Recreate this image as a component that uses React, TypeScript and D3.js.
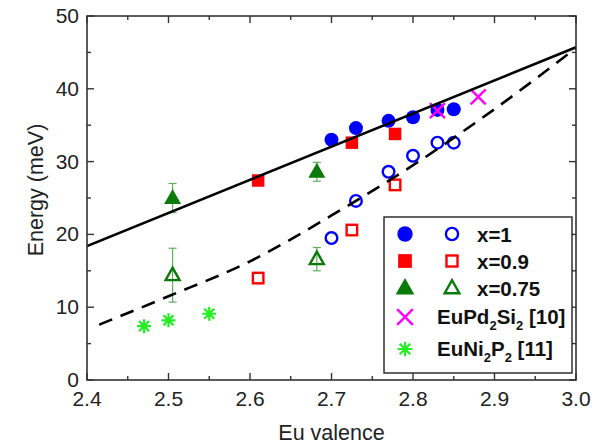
import React from "react";
import * as d3 from "d3";

// Eu valence vs energy
const valenceX1 = [2.7, 2.73, 2.77, 2.8, 2.83, 2.85];
const energyX1Filled = [33.0, 34.6, 35.6, 36.1, 37.1, 37.2];
const energyX1Open = [19.5, 24.6, 28.6, 30.8, 32.6, 32.6];

const valenceX09 = [2.61, 2.725, 2.778];
const energyX09Filled = [27.4, 32.6, 33.8];
const energyX09Open = [14.0, 20.6, 26.8];

const valenceX075 = [2.505, 2.682];
const energyX075Filled = [25.0, 28.6];
const errX075Filled = [2.0, 1.3];
const energyX075Open = [14.4, 16.6];
const errX075Open = [3.7, 1.6];

const valencePd = [2.83, 2.88];
const energyPd = [37.0, 38.9];

const valenceNi = [2.47, 2.5, 2.55];
const energyNi = [7.4, 8.2, 9.1];

const solidValence = [2.4, 3.0];
const solidEnergy = [18.4, 45.7];
const dashedValence = [2.415, 2.5, 2.6, 2.7, 2.8, 2.9, 3.0];
const dashedEnergy = [7.6, 11.5, 16.3, 22.6, 29.5, 37.2, 45.6];

const xTicks = [2.4, 2.5, 2.6, 2.7, 2.8, 2.9, 3.0];
const yTicks = [0, 10, 20, 30, 40, 50];

const BLUE = "#0000ff";
const RED = "#ff0000";
const GREEN = "#0a7a0a";
const GREEN_ERR = "#5fae5f";
const MAGENTA = "#ff00ff";
const LIME = "#22ee22";
const FONT = "'Liberation Sans', Arial, sans-serif";

const W = 603;
const H = 445;
const left = 87;
const right = 576;
const top = 16;
const bottom = 380;

type Kind = "circle" | "square" | "triangle" | "cross" | "star";

function Marker({ kind, x, y, color, filled, size = 1 }: { kind: Kind; x: number; y: number; color: string; filled?: boolean; size?: number }) {
  const fill = filled ? color : "none";
  const sw = 2.4;
  if (kind === "circle") {
    const r = (filled ? 7 : 5.8) * size;
    return <circle cx={x} cy={y} r={r} fill={fill} stroke={filled ? "none" : color} strokeWidth={sw} />;
  }
  if (kind === "square") {
    const s = (filled ? 12.5 : 10.5) * size;
    return <rect x={x - s / 2} y={y - s / 2} width={s} height={s} fill={fill} stroke={filled ? "none" : color} strokeWidth={sw} />;
  }
  if (kind === "triangle") {
    const h = (filled ? 15 : 12.5) * size;
    const w = (filled ? 17 : 14) * size;
    const p = `M${x},${y - h * 0.6} L${x + w / 2},${y + h * 0.4} L${x - w / 2},${y + h * 0.4} Z`;
    return <path d={p} fill={fill} stroke={filled ? "none" : color} strokeWidth={sw} strokeLinejoin="miter" />;
  }
  if (kind === "cross") {
    const a = 7.5 * size;
    return (
      <path d={`M${x - a},${y - a}L${x + a},${y + a}M${x - a},${y + a}L${x + a},${y - a}`} stroke={color} strokeWidth={2.4} />
    );
  }
  const a = 7 * size;
  const b = a * 0.72;
  return (
    <path
      d={`M${x - a},${y}L${x + a},${y}M${x},${y - a}L${x},${y + a}M${x - b},${y - b}L${x + b},${y + b}M${x - b},${y + b}L${x + b},${y - b}`}
      stroke={color}
      strokeWidth={2.2}
    />
  );
}

export default function App() {
  const x = d3.scaleLinear().domain([2.4, 3.0]).range([left, right]);
  const y = d3.scaleLinear().domain([0, 50]).range([bottom, top]);

  const line = d3
    .line<[number, number]>()
    .x((d) => x(d[0]))
    .y((d) => y(d[1]))
    .curve(d3.curveMonotoneX);

  const solidPts = solidValence.map((v, i) => [v, solidEnergy[i]] as [number, number]);
  const dashedPts = dashedValence.map((v, i) => [v, dashedEnergy[i]] as [number, number]);

  const xMinor = d3.range(2.45, 3.0, 0.1);
  const yMinor = d3.range(5, 50, 10);

  const errBar = (vx: number, e: number, err: number, key: string) => {
    const cx = x(vx);
    return (
      <g key={key} stroke={GREEN_ERR} strokeWidth={1.2}>
        <line x1={cx} x2={cx} y1={y(e - err)} y2={y(e + err)} />
        <line x1={cx - 4} x2={cx + 4} y1={y(e - err)} y2={y(e - err)} />
        <line x1={cx - 4} x2={cx + 4} y1={y(e + err)} y2={y(e + err)} />
      </g>
    );
  };

  const legendRows = [
    { y: 234, kind: "circle" as Kind, color: BLUE, label: "x=1" },
    { y: 261, kind: "square" as Kind, color: RED, label: "x=0.9" },
    { y: 288, kind: "triangle" as Kind, color: GREEN, label: "x=0.75" },
  ];

  return (
    <svg width={W} height={H} style={{ position: "absolute", left: 0, top: 0, background: "#fff" }} fontFamily={FONT}>
      <defs>
        <clipPath id="plot">
          <rect x={left} y={top} width={right - left} height={bottom - top} />
        </clipPath>
      </defs>

      {/* error bars */}
      {valenceX075.map((v, i) => errBar(v, energyX075Filled[i], errX075Filled[i], "ef" + i))}
      {valenceX075.map((v, i) => errBar(v, energyX075Open[i], errX075Open[i], "eo" + i))}

      {/* markers */}
      {valenceX1.map((v, i) => (
        <Marker key={"bf" + i} kind="circle" x={x(v)} y={y(energyX1Filled[i])} color={BLUE} filled />
      ))}
      {valenceX1.map((v, i) => (
        <Marker key={"bo" + i} kind="circle" x={x(v)} y={y(energyX1Open[i])} color={BLUE} />
      ))}
      {valenceX09.map((v, i) => (
        <Marker key={"rf" + i} kind="square" x={x(v)} y={y(energyX09Filled[i])} color={RED} filled />
      ))}
      {valenceX09.map((v, i) => (
        <Marker key={"ro" + i} kind="square" x={x(v)} y={y(energyX09Open[i])} color={RED} />
      ))}
      {valenceX075.map((v, i) => (
        <Marker key={"gf" + i} kind="triangle" x={x(v)} y={y(energyX075Filled[i])} color={GREEN} filled />
      ))}
      {valenceX075.map((v, i) => (
        <Marker key={"go" + i} kind="triangle" x={x(v)} y={y(energyX075Open[i])} color={GREEN} />
      ))}
      {valencePd.map((v, i) => (
        <Marker key={"pd" + i} kind="cross" x={x(v)} y={y(energyPd[i])} color={MAGENTA} />
      ))}
      {valenceNi.map((v, i) => (
        <Marker key={"ni" + i} kind="star" x={x(v)} y={y(energyNi[i])} color={LIME} />
      ))}

      {/* fit curves */}
      <g clipPath="url(#plot)" fill="none" stroke="#000" strokeWidth={2.6}>
        <path d={line(solidPts) || ""} />
        <path d={line(dashedPts) || ""} strokeDasharray="14 9" />
      </g>

      {/* frame and ticks */}
      <rect x={left} y={top} width={right - left} height={bottom - top} fill="none" stroke="#333" strokeWidth={1.6} />
      <g stroke="#333" strokeWidth={1.4}>
        {xTicks.map((t) => (
          <g key={"xt" + t}>
            <line x1={x(t)} x2={x(t)} y1={bottom} y2={bottom - 7} />
            <line x1={x(t)} x2={x(t)} y1={top} y2={top + 7} />
          </g>
        ))}
        {xMinor.map((t) => (
          <g key={"xm" + t}>
            <line x1={x(t)} x2={x(t)} y1={bottom} y2={bottom - 4} />
            <line x1={x(t)} x2={x(t)} y1={top} y2={top + 4} />
          </g>
        ))}
        {yTicks.map((t) => (
          <g key={"yt" + t}>
            <line x1={left} x2={left + 7} y1={y(t)} y2={y(t)} />
            <line x1={right} x2={right - 7} y1={y(t)} y2={y(t)} />
          </g>
        ))}
        {yMinor.map((t) => (
          <g key={"ym" + t}>
            <line x1={left} x2={left + 4} y1={y(t)} y2={y(t)} />
            <line x1={right} x2={right - 4} y1={y(t)} y2={y(t)} />
          </g>
        ))}
      </g>

      {/* tick labels */}
      <g fontSize={21} fill="#222">
        {xTicks.map((t) => (
          <text key={"xl" + t} x={x(t)} y={406} textAnchor="middle">
            {d3.format(".1f")(t)}
          </text>
        ))}
        {yTicks.map((t) => (
          <text key={"yl" + t} x={79} y={y(t) + 7} textAnchor="end">
            {t}
          </text>
        ))}
      </g>

      {/* axis titles */}
      <text x={(left + right) / 2} y={440} textAnchor="middle" fontSize={21.5} fill="#222">
        Eu valence
      </text>
      <text transform={`translate(43,190) rotate(-90)`} textAnchor="middle" fontSize={21.5} fill="#222">
        Energy (meV)
      </text>

      {/* legend */}
      <rect x={384} y={217} width={188} height={156} fill="#fff" stroke="#222" strokeWidth={1.4} />
      <g fontSize={20.5} fontWeight="bold" fill="#111">
        {legendRows.map((r) => (
          <g key={r.label}>
            <Marker kind={r.kind} x={405} y={r.y} color={r.color} filled size={1.1} />
            <Marker kind={r.kind} x={452} y={r.y} color={r.color} size={1.05} />
            <text x={477} y={r.y + 7.5}>
              {r.label}
            </text>
          </g>
        ))}
        <Marker kind="cross" x={405} y={317} color={MAGENTA} size={1.05} />
        <text x={437} y={324}>
          EuPd<tspan fontSize={13} dy={6}>2</tspan>
          <tspan dy={-6}>Si</tspan>
          <tspan fontSize={13} dy={6}>2</tspan>
          <tspan dy={-6}> [10]</tspan>
        </text>
        <Marker kind="star" x={405} y={349} color={LIME} size={1.05} />
        <text x={437} y={356}>
          EuNi<tspan fontSize={13} dy={6}>2</tspan>
          <tspan dy={-6}>P</tspan>
          <tspan fontSize={13} dy={6}>2</tspan>
          <tspan dy={-6}> [11]</tspan>
        </text>
      </g>
    </svg>
  );
}
